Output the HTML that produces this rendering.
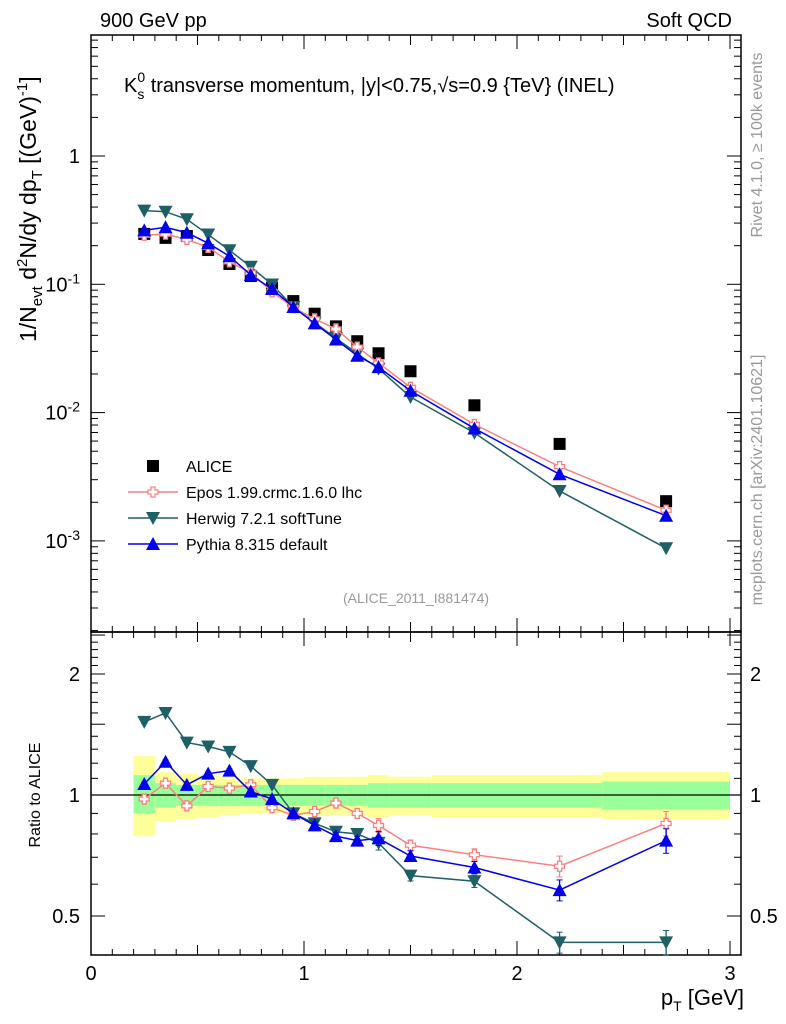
<!DOCTYPE html>
<html><head><meta charset="utf-8"><style>
body{margin:0;background:#fff}
svg{display:block;font-family:"Liberation Sans",Arial,sans-serif}
</style></head><body>
<svg id="c" width="786" height="1024" viewBox="0 0 786 1024"></svg>
<script>
const xCenters=[0.25,0.35,0.45,0.55,0.65,0.75,0.85,0.95,1.05,1.15,1.25,1.35,1.5,1.8,2.2,2.7];
const binLo=[0.2,0.3,0.4,0.5,0.6,0.7,0.8,0.9,1.0,1.1,1.2,1.3,1.4,1.6,2.0,2.4];
const binHi=[0.3,0.4,0.5,0.6,0.7,0.8,0.9,1.0,1.1,1.2,1.3,1.4,1.6,2.0,2.4,3.0];
const alice=[0.247,0.23,0.238,0.185,0.144,0.116,0.094,0.074,0.059,0.047,0.036,0.029,0.021,0.0114,0.0057,0.00204];
const eposRatio=[0.977,1.07,0.94,1.05,1.04,1.06,0.93,0.89,0.91,0.955,0.90,0.84,0.75,0.71,0.665,0.85];
const herwigRatio=[1.52,1.60,1.35,1.32,1.28,1.18,1.06,0.90,0.85,0.81,0.80,0.76,0.63,0.61,0.43,0.43];
const pythiaRatio=[1.065,1.21,1.06,1.13,1.15,1.02,0.977,0.90,0.84,0.79,0.77,0.78,0.705,0.66,0.58,0.77];
const ratioErr=[0.01,0.01,0.01,0.01,0.01,0.01,0.01,0.015,0.02,0.02,0.025,0.04,0.03,0.035,0.06,0.07];
const yellowUp=[1.25,1.14,1.13,1.12,1.11,1.10,1.10,1.10,1.11,1.11,1.11,1.12,1.11,1.12,1.12,1.14];
const yellowDn=[0.79,0.86,0.87,0.88,0.89,0.90,0.90,0.90,0.89,0.89,0.89,0.88,0.89,0.88,0.88,0.87];
const greenUp=[1.12,1.07,1.06,1.06,1.06,1.06,1.06,1.06,1.06,1.06,1.06,1.07,1.07,1.07,1.07,1.08];
const greenDn=[0.90,0.93,0.94,0.94,0.94,0.94,0.94,0.94,0.94,0.94,0.94,0.93,0.93,0.93,0.93,0.92];
const ratioTicks=[0.5,1,2];
const yTicks=[0.001,0.01,0.1,1];
const yTickLabels=["10^-3","10^-2","10^-1","1"];

const L=91,R=741,T=35,M=632,B=955;
const X=v=>91+213*v;
const Y=v=>156-128.3*Math.log10(v);
const YR=r=>795-121*Math.log2(r);
const NS="http://www.w3.org/2000/svg";
const svg=document.getElementById('c');
function mk(tag,attrs,parent){const e=document.createElementNS(NS,tag);for(const k in attrs)e.setAttribute(k,attrs[k]);(parent||svg).appendChild(e);return e;}

const gBand=mk('g',{});


for(let i=0;i<xCenters.length;i++){
 const x0=X(binLo[i]),x1=X(binHi[i]);
 const r1=mk('rect',{x:x0,y:YR(yellowUp[i]),width:x1-x0,height:YR(yellowDn[i])-YR(yellowUp[i]),fill:'#ffff99'},gBand);
 
 
 const r2=mk('rect',{x:x0,y:YR(greenUp[i]),width:x1-x0,height:YR(greenDn[i])-YR(greenUp[i]),fill:'#99ff99'},gBand);
 
 
}
mk('line',{x1:L,x2:R,y1:YR(1),y2:YR(1),stroke:'#000','stroke-width':1.2});

const f1=mk('rect',{x:L,y:T,width:R-L,height:M-T,fill:'none',stroke:'#000','stroke-width':1.5});


const f2=mk('rect',{x:L,y:M,width:R-L,height:B-M,fill:'none',stroke:'#000','stroke-width':1.5});



for(let k=0;k<=30;k++){
 const v=k/10,x=X(v);if(x>R)break;
 const len=k%10===0?14:(k%5===0?10:6);
 [[M,M-len],[T,T+len],[B,B-len],[M,M+len]].forEach(([a,b])=>mk('line',{x1:x,x2:x,y1:a,y2:b,stroke:'#000'}));
}
[0,1,2,3].forEach(v=>{const t=mk('text',{x:X(v),y:980,'font-size':20,'text-anchor':'middle'});t.textContent=v;
 
 });

for(let e=-4;e<=0;e++){for(let m=1;m<10;m++){
 const v=m*Math.pow(10,e),y=Y(v);if(y<T||y>M)continue;
 const len=m===1?14:7;
 mk('line',{x1:L,x2:L+len,y1:y,y2:y,stroke:'#000'});mk('line',{x1:R,x2:R-len,y1:y,y2:y,stroke:'#000'});
}}
yTicks.forEach((v,i)=>{
 const t=mk('text',{x:80,y:Y(v)+7,'font-size':20,'text-anchor':'end'});
 
 
 const s=yTickLabels[i];
 if(s.indexOf('^')>0){const p=s.split('^');t.textContent=p[0];const sp=mk('tspan',{dy:-8,'font-size':14},t);sp.textContent=p[1];}
 else t.textContent=s;
});
for(let k=4;k<=25;k++){const r=k/10;const y=YR(r);if(y<M||y>B)continue;
 const len=(k%5===0)?14:7;
 mk('line',{x1:L,x2:L+len,y1:y,y2:y,stroke:'#000'});mk('line',{x1:R,x2:R-len,y1:y,y2:y,stroke:'#000'});}
ratioTicks.forEach(r=>{
 const t=mk('text',{x:80,y:YR(r)+7,'font-size':20,'text-anchor':'end'});t.textContent=r;
 
 
 const t2=mk('text',{x:750,y:YR(r)+7,'font-size':20});t2.textContent=r;
 
 
});

function marker(kind,x,y,c,g){
 if(kind==='sq')return mk('rect',{x:x-6,y:y-6,width:12,height:12,fill:'#000'},g);
 if(kind==='down')return mk('path',{d:`M${x-7},${y-6}L${x+7},${y-6}L${x},${y+7}Z`,fill:c},g);
 if(kind==='up')return mk('path',{d:`M${x-7},${y+6}L${x+7},${y+6}L${x},${y-7}Z`,fill:c},g);
 if(kind==='cross')return mk('path',{d:`M${x-2},${y-5}h4v3h3v4h-3v3h-4v-3h-3v-4h3Z`,fill:'#fff',stroke:c,'stroke-width':1.3},g);
}
function series(name,ratios,color,kind,main){
 const g=mk('g',{});
 
 
 const pts=xCenters.map((x,i)=>[X(x),main?Y(alice[i]*ratios[i]):YR(ratios[i])]);
 mk('polyline',{points:pts.map(p=>p.join(',')).join(' '),fill:'none',stroke:color,'stroke-width':1.5},g);
 if(!main)pts.forEach((p,i)=>{const e=ratioErr[i]*ratios[i];const y1=YR(ratios[i]+e),y2=YR(ratios[i]-e);
  mk('line',{x1:p[0],x2:p[0],y1:y1,y2:y2,stroke:color,'stroke-width':1.3},g);
  mk('line',{x1:p[0]-3,x2:p[0]+3,y1:y1,y2:y1,stroke:color},g);mk('line',{x1:p[0]-3,x2:p[0]+3,y1:y2,y2:y2,stroke:color},g);});
 pts.forEach(p=>{const m=marker(kind,p[0],p[1],color,g);
  
  });
}
const ga=mk('g',{});


xCenters.forEach((x,i)=>{const m=marker('sq',X(x),Y(alice[i]),'#000',ga);
 
 });
series('herwig',herwigRatio,'#1f5f66','down',true);
series('epos',eposRatio,'#ff7f7f','cross',true);
series('pythia',pythiaRatio,'#0000ee','up',true);
series('herwig-ratio',herwigRatio,'#1f5f66','down',false);
series('epos-ratio',eposRatio,'#ff7f7f','cross',false);
series('pythia-ratio',pythiaRatio,'#0000ee','up',false);

const leg=[['ALICE','#000','sq'],['Epos 1.99.crmc.1.6.0 lhc','#ff7f7f','cross'],['Herwig 7.2.1 softTune','#1f5f66','down'],['Pythia 8.315 default','#0000ee','up']];
const lg=mk('g',{});


leg.forEach((l,i)=>{const y=466+26*i;
 if(l[2]!=='sq')mk('line',{x1:128,x2:178,y1:y,y2:y,stroke:l[1],'stroke-width':1.5},lg);
 marker(l[2],153,y,l[1],lg);
 const t=mk('text',{x:186,y:y+6,'font-size':16},lg);t.textContent=l[0];
 
 });

function txt(s,attrs,name){const t=mk('text',attrs);t.innerHTML=s;return t;}
txt('900 GeV pp',{x:100,y:27,'font-size':20},'collision-label');
txt('Soft QCD',{x:732,y:27,'font-size':20,'text-anchor':'end'},'category-label');
txt('K<tspan dy="7" font-size="14">s</tspan><tspan dy="-17" dx="-7" font-size="14">0</tspan><tspan dy="10"> transverse momentum, |y|&lt;0.75,√s=0.9 {TeV} (INEL)</tspan>',{x:124,y:92,'font-size':20},'plot-title');
txt('(ALICE_2011_I881474)',{x:416,y:603,'font-size':14,fill:'#999','text-anchor':'middle'},'analysis-id');
txt('p<tspan dy="6" font-size="14">T</tspan><tspan dy="-6"> [GeV]</tspan>',{x:744,y:1005,'font-size':22,'text-anchor':'end'},'x-axis-title');
txt('1/N<tspan dy="6" font-size="15">evt</tspan><tspan dy="-6">   d</tspan><tspan dy="-9" font-size="15">2</tspan><tspan dy="9">N/dy dp</tspan><tspan dy="6" font-size="15">T</tspan><tspan dy="-6"> [(GeV)</tspan><tspan dy="-9" font-size="15">-1</tspan><tspan dy="9">]</tspan>',{x:0,y:0,'font-size':23,transform:'translate(36,342) rotate(-90)'},'y-axis-title');
txt('Ratio to ALICE',{x:0,y:0,'font-size':16,'text-anchor':'middle',transform:'translate(40,795) rotate(-90)'},'ratio-axis-title');
txt('Rivet 4.1.0, ≥ 100k events',{x:0,y:0,'font-size':16,fill:'#999','text-anchor':'middle',transform:'translate(762,145) rotate(-90)'},'rivet-label');
txt('mcplots.cern.ch [arXiv:2401.10621]',{x:0,y:0,'font-size':16,fill:'#999','text-anchor':'middle',transform:'translate(762,480) rotate(-90)'},'mcplots-label');
</script>
</body></html>
